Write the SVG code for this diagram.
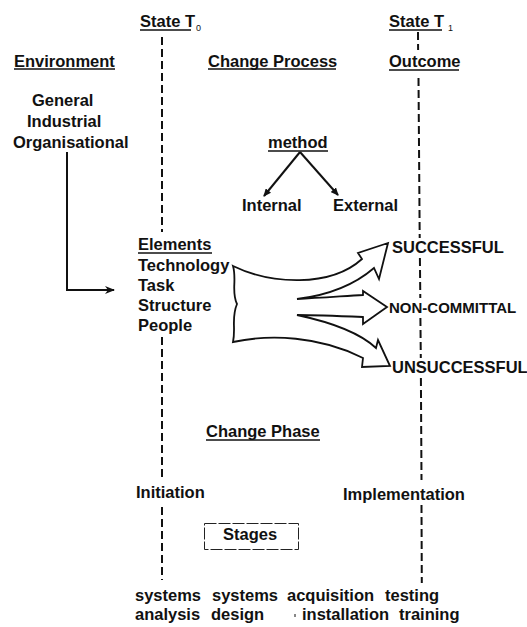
<svg xmlns="http://www.w3.org/2000/svg" width="527" height="627" viewBox="0 0 527 627">
<style>
text{font-family:"Liberation Sans",Arial,sans-serif;font-weight:bold;font-size:16.5px;fill:#111}
.sub{font-size:9px;font-weight:normal}
.ul{stroke:#111;stroke-width:1.4}
.dash{stroke:#111;stroke-width:2;stroke-dasharray:8 4;fill:none}
.ln{stroke:#111;stroke-width:2;fill:none}
</style>
<defs>
<marker id="ah" markerWidth="10" markerHeight="8" refX="9" refY="4" orient="auto" markerUnits="userSpaceOnUse">
<path d="M0,0 L10,4 L0,8 L3,4 Z" fill="#111"/>
</marker>
<marker id="ahs" markerWidth="8" markerHeight="7" refX="7" refY="3.5" orient="auto" markerUnits="userSpaceOnUse">
<path d="M0,0 L8,3.5 L0,7 Z" fill="#111"/>
</marker>
</defs>
<rect width="527" height="627" fill="#fff"/>

<g id="timelines">
<path class="dash" d="M162,37 V232 M162,337 V481 M162,507 V580"/>
<path class="dash" d="M418,32 L418.1,50 M418.5,78 L419.7,238 M419.9,258 L420.3,298 M420.4,318 L420.8,358 M420.9,378 L421.5,480 M421.5,505 L421.8,583"/>
</g>

<g id="state-t0">
<text x="140" y="27">State T<tspan class="sub" dx="1" dy="4">0</tspan></text>
<line class="ul" x1="140" y1="30" x2="191" y2="30"/>
</g>
<g id="state-t1">
<text x="389" y="27">State T<tspan class="sub" dx="4" dy="4">1</tspan></text>
<line class="ul" x1="389" y1="30" x2="442" y2="30"/>
</g>

<g id="environment">
<text x="14" y="66.5">Environment</text>
<line class="ul" x1="14" y1="69" x2="115" y2="69"/>
<text x="32" y="106">General</text>
<text x="27" y="127">Industrial</text>
<text x="13" y="148">Organisational</text>
</g>

<g id="change-process">
<text x="208" y="66.5">Change Process</text>
<line class="ul" x1="208" y1="69" x2="336" y2="69"/>
</g>

<g id="outcome">
<text x="389" y="66.5">Outcome</text>
<line class="ul" x1="389" y1="70" x2="459" y2="70"/>
</g>

<g id="method">
<text x="268" y="148">method</text>
<line class="ul" x1="268" y1="151" x2="328" y2="151"/>
</g>
<g id="internal"><text x="242" y="211">Internal</text></g>
<g id="external"><text x="333" y="211">External</text></g>

<g id="elements">
<text x="138" y="250">Elements</text>
<line class="ul" x1="138" y1="253" x2="212" y2="253"/>
<text x="138" y="271">Technology</text>
<text x="138" y="291">Task</text>
<text x="138" y="311">Structure</text>
<text x="138" y="331">People</text>
</g>

<g id="flow-arrow">
<path fill="#fff" stroke="#111" stroke-width="1.8" stroke-linejoin="miter" d="M233,266 C270,284 330,288 362,259 L358,253 L388,243 L379,279 L374,268 C352,287 322,296 297,299 C320,298 345,296 363,295 L363,291 L387,307 L363,324 L363,317 C340,316 315,315 297,315 C330,322 360,333 376,348 L378,340 L390,366 L362,367 L363,358 C320,336 270,334 233,342 C236,328 231,318 237,304 C231,292 237,280 233,266 Z"/>
</g>

<g id="successful"><text x="392" y="253">SUCCESSFUL</text></g>
<g id="non-committal"><text x="389" y="313" style="font-size:15px">NON-COMMITTAL</text></g>
<g id="unsuccessful"><text x="392" y="373">UNSUCCESSFUL</text></g>

<g id="change-phase">
<text x="206" y="437">Change Phase</text>
<line class="ul" x1="206" y1="440" x2="320" y2="440"/>
</g>
<g id="initiation"><text x="136" y="498">Initiation</text></g>
<g id="implementation"><text x="343" y="500">Implementation</text></g>

<g id="stages">
<rect x="204.5" y="523.5" width="94" height="26" fill="none" stroke="#222" stroke-width="1" stroke-dasharray="12 2"/>
<text x="223" y="540">Stages</text>
</g>

<g id="stage-list">
<text x="135" y="601">systems</text>
<text x="212" y="601">systems</text>
<text x="287" y="601">acquisition</text>
<text x="385" y="601">testing</text>
<text x="135" y="620">analysis</text>
<text x="211" y="620">design</text>
<text x="302" y="620">installation</text>
<text x="399" y="620">training</text>
<path stroke="#111" stroke-width="1" d="M295,614 v3 M402,614 v3"/>
</g>

<g id="connectors">
<path class="ln" d="M67,152 V290 H114" marker-end="url(#ah)"/>
<path class="ln" stroke-width="1.8" d="M300,152 L264,196" marker-end="url(#ahs)"/>
<path class="ln" stroke-width="1.8" d="M300,152 L338,195" marker-end="url(#ahs)"/>
</g>
</svg>
